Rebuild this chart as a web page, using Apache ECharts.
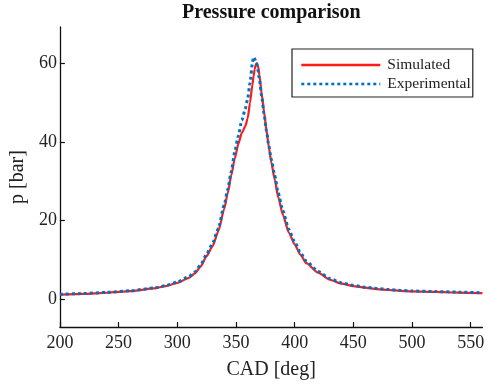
<!DOCTYPE html>
<html>
<head>
<meta charset="utf-8">
<script src="https://cdn.jsdelivr.net/npm/echarts@6/dist/echarts.min.js"></script>
<style>html,body{margin:0;padding:0;background:#fff}#c{width:487px;height:385px}</style>
</head>
<body>
<div id="c"></div>
<script>
var cad = [200,220,240,260,280,290,300,310,315,320,325,330,335,340,343,346,349,352,355,358,360,362,364,365,366,367,368,369,370,372,374,376,378,380,383,386,390,395,400,405,410,420,430,440,450,460,470,480,490,500,520,540,560];
var simulated = [1.2,1.4,1.7,2.1,2.8,3.4,4.2,5.5,6.6,8.4,11,13.5,17.3,23,27,31.5,35.8,39.5,42.3,44,46,50,54.5,56.7,58.5,59.8,60,59,57,52,47.5,43,38.7,35,30.5,26,21.5,17,14,11.3,9.2,6.8,5,4,3.4,3,2.6,2.4,2.2,2.05,1.9,1.75,1.6];
var experimental = [1.3,1.5,1.8,2.2,2.9,3.5,4.4,5.8,7,8.8,11.5,14.2,18,24,28,32.5,37.5,41.5,45.5,48.5,51,55,60,61.6,61.2,60.3,59.5,57.8,55.8,51.5,47,42.8,39,35.7,31.5,27,22.5,17.8,14.6,11.8,9.7,7.1,5.3,4.2,3.6,3.1,2.8,2.5,2.3,2.15,2.0,1.85,1.7];
var xTicks = [200,250,300,350,400,450,500,550];
var yTicks = [0,20,40,60];

function pairs(xs, ys){ return xs.map(function(x,i){ return [x, ys[i]]; }); }
var font = 'Liberation Serif';
var chart = echarts.init(document.getElementById('c'));
chart.setOption({
  animation: false,
  backgroundColor: '#fff',
  title: {
    text: 'Pressure comparison',
    left: 182,
    top: 0,
    padding: [3, 0, 3, 0],
    textStyle: { fontFamily: font, fontWeight: 'bold', fontSize: 20, color: '#111' }
  },
  legend: {
    orient: 'vertical',
    left: 292, top: 49,
    padding: [8, 2, 5, 8],
    itemGap: 3,
    itemWidth: 79, itemHeight: 14,
    itemStyle: { opacity: 0 },
    lineStyle: { width: 2.6 },
    borderColor: '#222', borderWidth: 1.2,
    backgroundColor: '#fff',
    textStyle: { fontFamily: font, fontSize: 15.5, color: '#222', padding: [0,0,0,2] },
    data: ['Simulated', 'Experimental']
  },
  grid: { left: 53, right: 2, top: 27, bottom: 56, containLabel: false },
  xAxis: {
    type: 'value', min: 200, max: 560,
    name: 'CAD [deg]', nameLocation: 'middle', nameGap: 33,
    nameTextStyle: { fontFamily: font, fontSize: 20, color: '#222' },
    axisLine: { onZero: false, lineStyle: { color: '#111', width: 1.3 } },
    axisTick: { inside: true, length: 5, lineStyle: { color: '#111', width: 1.2 }, customValues: xTicks },
    axisLabel: { fontFamily: font, fontSize: 18, color: '#222', margin: 7, customValues: xTicks },
    splitLine: { show: false }
  },
  yAxis: {
    type: 'value', min: -7, max: 69.2,
    name: 'p [bar]', nameLocation: 'middle', nameGap: 30,
    nameTextStyle: { fontFamily: font, fontSize: 20, color: '#222' },
    axisLine: { show: true, onZero: false, lineStyle: { color: '#111', width: 1.3 } },
    axisTick: { show: true, inside: true, length: 5, lineStyle: { color: '#111', width: 1.2 }, customValues: yTicks },
    axisLabel: { fontFamily: font, fontSize: 18, color: '#222', margin: 3, customValues: yTicks },
    splitLine: { show: false }
  },
  series: [
    {
      name: 'Simulated', type: 'line', symbol: 'none', smooth: 0.2, smoothMonotone: 'x',
      data: pairs(cad, simulated),
      itemStyle: { color: '#ff1a1a' },
      lineStyle: { color: '#ff1a1a', width: 2.2 }
    },
    {
      name: 'Experimental', type: 'line', symbol: 'none', smooth: 0.2, smoothMonotone: 'x',
      data: pairs(cad, experimental),
      itemStyle: { color: '#0072BD' },
      lineStyle: { color: '#0072BD', width: 3, type: [3, 3], cap: 'butt' }
    }
  ]
});
</script>
</body>
</html>
